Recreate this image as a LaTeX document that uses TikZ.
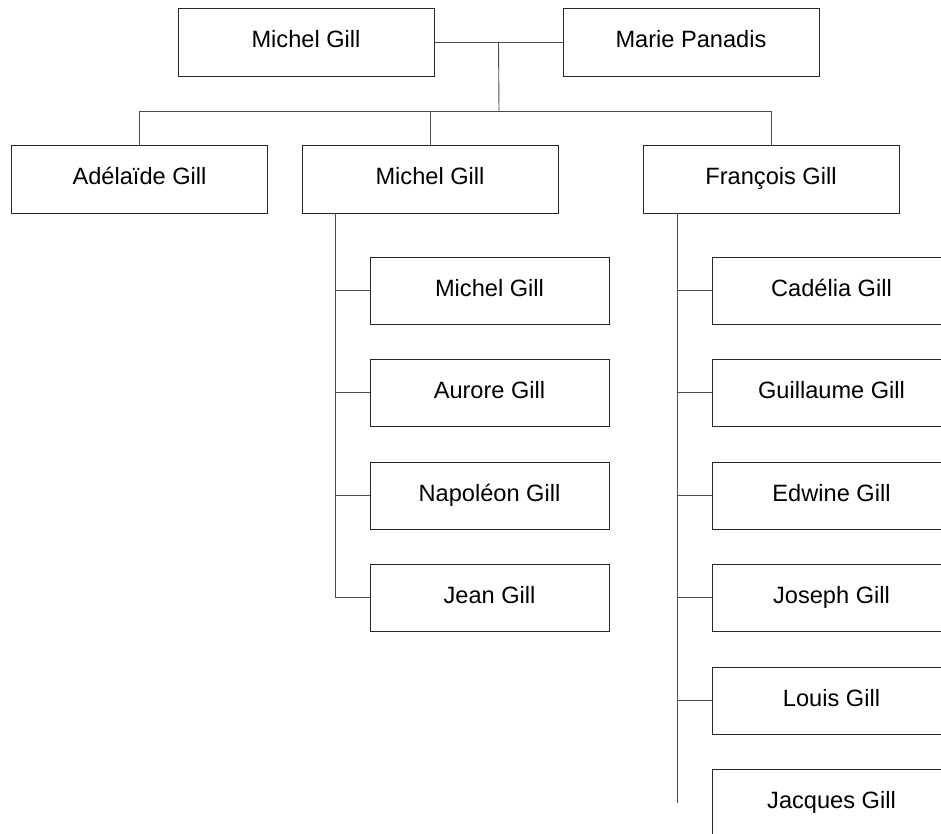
\documentclass[tikz,border=0pt]{standalone}
\usepackage{fontspec}
\setmainfont{Liberation Sans}
\usetikzlibrary{calc}
\begin{document}
\begin{tikzpicture}[x=1pt,y=-1pt,
  person/.style={draw=black!85, line width=0.9pt, fill=white, inner sep=0pt,
    minimum width=256pt, minimum height=68pt, text height=17pt, text depth=5pt,
    font=\fontsize{23.6}{28}\selectfont},
  child/.style={person, minimum width=239pt, minimum height=67pt},
  link/.style={draw=black!70, line width=0.9pt}]
\path[use as bounding box, clip] (0,0) rectangle (941,834);
\fill[white] (0,0) rectangle (941,834);
% top couple
\node[person] (m) at (306,42) {Michel Gill};
\node[person] (p) at (691,42) {Marie Panadis};
% second generation
\node[person] (ad) at (139.5,179) {Adélaïde Gill};
\node[person] (mi) at (430,179) {Michel Gill};
\node[person] (fr) at (771,179) {François Gill};
% children of Michel
\node[child] (c1) at (489.5,290.5) {Michel Gill};
\node[child] (c2) at (489.5,392.5) {Aurore Gill};
\node[child] (c3) at (489.5,495.5) {Napoléon Gill};
\node[child] (c4) at (489.5,597.5) {Jean Gill};
% children of François
\node[child] (d1) at (831.5,290.5) {Cadélia Gill};
\node[child] (d2) at (831.5,392.5) {Guillaume Gill};
\node[child] (d3) at (831.5,495.5) {Edwine Gill};
\node[child] (d4) at (831.5,597.5) {Joseph Gill};
\node[child] (d5) at (831.5,700.5) {Louis Gill};
\node[child] (d6) at (831.5,802.5) {Jacques Gill};
% couple link
\draw[link] (m.east) -- (p.west);
\coordinate (cm) at ($(m.east)!0.5!(p.west)$);
\coordinate (bus) at (499,111);
\draw[link] (cm) -- (bus);
\draw[link] (ad.north) |- (bus);
\draw[link] (fr.north) |- (bus);
\draw[link] (mi.north) -- (mi.north |- bus);
% Michel's trunk
\coordinate (mt) at ([xshift=34pt]mi.south west);
\foreach \c in {c1,c2,c3,c4} \draw[link] (mt) |- (\c.west);
% François's trunk
\coordinate (ft) at ([xshift=35pt]fr.south west);
\foreach \c in {d1,d2,d3,d4,d5} \draw[link] (ft) |- (\c.west);
\draw[link] (ft) -- (ft |- d6.west);
\end{tikzpicture}
\end{document}
